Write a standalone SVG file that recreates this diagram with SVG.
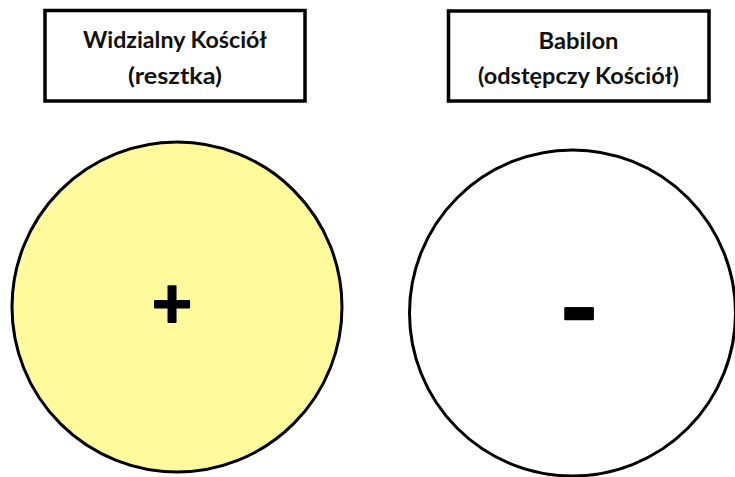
<svg xmlns="http://www.w3.org/2000/svg" width="735" height="477" viewBox="0 0 735 477">
<style>
.box{fill:#fff;stroke:#000;stroke-width:3.5}
.lbl{font-family:Lato,"Open Sans","Liberation Sans",sans-serif;font-weight:bold;font-size:22px;fill:#111;text-anchor:middle}
.circ{stroke:#000;stroke-width:3}
.sign{font-family:Lato,"Liberation Sans",sans-serif;font-weight:bold;fill:#000;stroke:#000;stroke-linejoin:round;text-anchor:middle}
</style>
<rect width="735" height="477" fill="#fff"/>
<g id="box-left">
<rect class="box" x="45" y="10.5" width="260" height="90.5"/>
<text class="lbl" x="175" y="48" textLength="184" lengthAdjust="spacingAndGlyphs">Widzialny Kościół</text>
<text class="lbl" x="175" y="84" textLength="94" lengthAdjust="spacingAndGlyphs">(resztka)</text>
</g>
<g id="box-right">
<rect class="box" x="448.5" y="11" width="260.5" height="90"/>
<text class="lbl" x="578.5" y="48.5" textLength="80" lengthAdjust="spacingAndGlyphs">Babilon</text>
<text class="lbl" x="578.5" y="84" textLength="201" lengthAdjust="spacingAndGlyphs">(odstępczy Kościół)</text>
</g>
<g id="circle-left">
<circle class="circ" cx="177" cy="307" r="165" fill="#FFFA9B"/>
<text class="sign" x="172" y="327.5" font-size="70" stroke-width="2">+</text>
</g>
<g id="circle-right">
<circle class="circ" cx="572.5" cy="313" r="163" fill="#fff"/>
<text class="sign" x="579" y="344.5" font-size="105" stroke-width="2.5">-</text>
</g>
<g id="connectors"/>
</svg>
